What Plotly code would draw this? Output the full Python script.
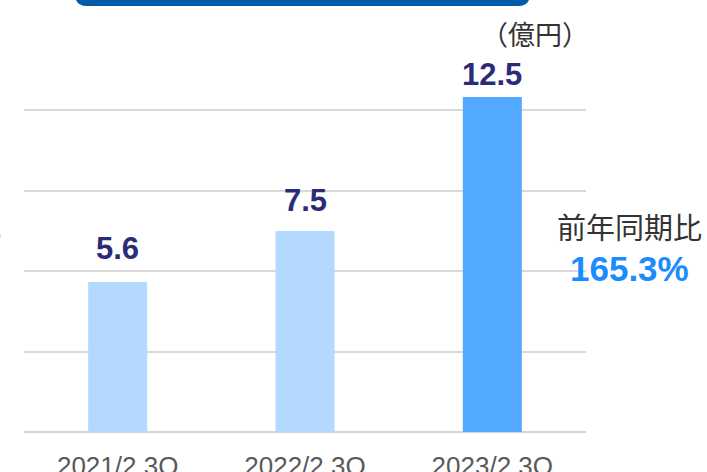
import plotly.graph_objects as go

categories = ["2021/2 3Q", "2022/2 3Q", "2023/2 3Q"]
values = [5.6, 7.5, 12.5]
value_labels = ["5.6", "7.5", "12.5"]
bar_colors = ["#b3d9ff", "#b3d9ff", "#52a9ff"]
grid_ticks = [0, 3, 6, 9, 12]
unit_label = "（億円）"
yoy_label = "前年同期比"
yoy_value = "165.3%"

W, H = 707, 472
L, R, T, B = 24, 121, 40, 40
PW, PH = W - L - R, H - T - B


def px(x):
    return (x - L) / PW


def py(y):
    return (H - B - y) / PH


fig = go.Figure(
    go.Bar(
        x=categories,
        y=values,
        marker=dict(color=bar_colors, line=dict(width=0)),
        width=0.315,
        hoverinfo="skip",
    )
)

fig.update_layout(
    width=W,
    height=H,
    margin=dict(l=L, r=R, t=T, b=B, autoexpand=False),
    paper_bgcolor="white",
    plot_bgcolor="white",
    showlegend=False,
    font=dict(family="Noto Sans CJK JP"),
    xaxis=dict(
        showgrid=False,
        showline=False,
        ticks="",
        tickfont=dict(family="Liberation Sans", size=26, color="#595959"),
        ticklabelstandoff=16,
        range=[-0.5, 2.5],
        automargin=False,
        fixedrange=True,
    ),
    yaxis=dict(
        range=[0, PH / 26.8],
        tickvals=grid_ticks,
        showticklabels=False,
        showgrid=True,
        gridcolor="#d9d9d9",
        gridwidth=2,
        zeroline=True,
        zerolinecolor="#d4d4d4",
        zerolinewidth=2,
        showline=False,
        fixedrange=True,
        automargin=False,
    ),
)

# value labels above bars
label_shifts = [33, 31, 23]
for cat, val, lab, sh in zip(categories, values, value_labels, label_shifts):
    fig.add_annotation(
        x=cat, y=val, xref="x", yref="y", text=lab, showarrow=False,
        xanchor="center", yanchor="middle", yshift=sh,
        font=dict(family="Liberation Sans", size=31, color="#2b2c78", weight="bold"),
    )

# top banner (rounded bottom corners)
x0, x1 = px(75), px(530)
yb, yt = py(6), py(-20)
rr = 12
fig.add_shape(
    type="path",
    xref="paper",
    yref="paper",
    path=(
        f"M {x0},{yt} L {x0},{py(6 - rr)} Q {x0},{yb} {px(75 + rr)},{yb} "
        f"L {px(530 - rr)},{yb} Q {x1},{yb} {x1},{py(6 - rr)} L {x1},{yt} Z"
    ),
    fillcolor="#005bab",
    line=dict(width=0),
    layer="above",
)

fig.add_annotation(
    x=px(535), y=py(34), xref="paper", yref="paper",
    text=unit_label, showarrow=False, xanchor="center", yanchor="middle",
    font=dict(family="Noto Sans CJK JP", size=27, color="#333333"),
)
fig.add_annotation(
    x=px(629), y=py(226), xref="paper", yref="paper",
    text=yoy_label, showarrow=False, xanchor="center", yanchor="middle",
    font=dict(family="Noto Sans CJK JP", size=29, color="#333333"),
)
fig.add_annotation(
    x=px(629), y=py(268), xref="paper", yref="paper",
    text=yoy_value, showarrow=False, xanchor="center", yanchor="middle",
    font=dict(family="Liberation Sans", size=35, color="#1a8cff", weight="bold"),
)
# cut-off label from neighbouring chart at the left edge
fig.add_annotation(
    x=px(3), y=py(226), xref="paper", yref="paper",
    text=yoy_label, showarrow=False, xanchor="right", yanchor="middle",
    font=dict(family="Noto Sans CJK JP", size=29, color="#333333"),
)

fig.write_html(
    "out.html",
    config={"displayModeBar": False, "staticPlot": True},
    post_script="document.body.style.margin='0px';document.body.style.overflow='hidden';",
)
